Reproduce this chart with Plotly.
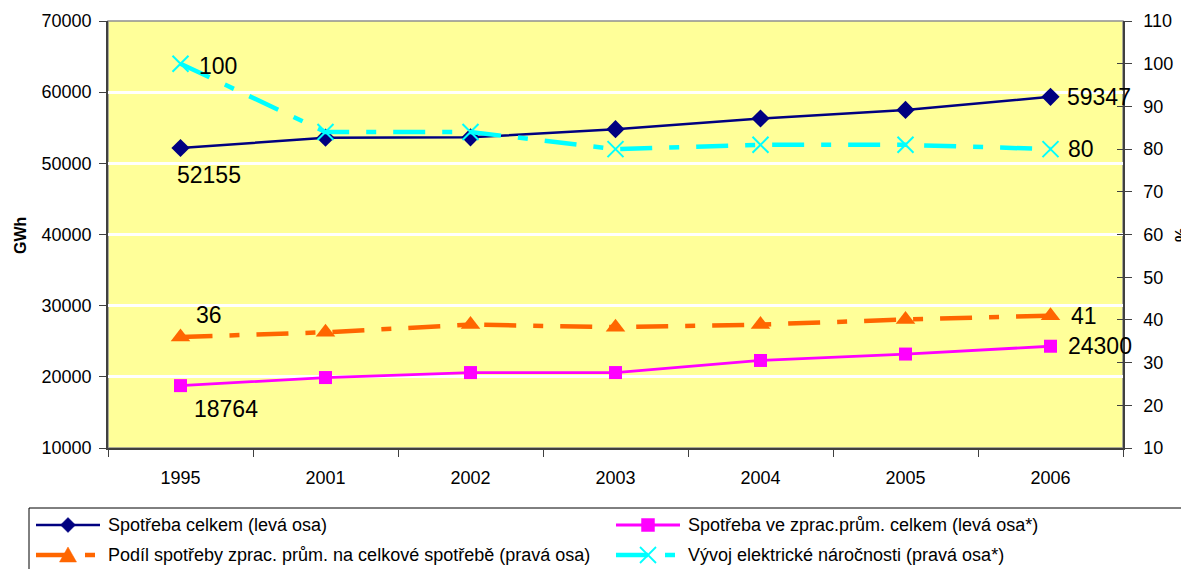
import plotly.graph_objects as go

# categories and series values
years = ["1995", "2001", "2002", "2003", "2004", "2005", "2006"]
spotreba_celkem = [52155, 53600, 53650, 54800, 56300, 57500, 59347]      # GWh, left axis
spotreba_zprac = [18764, 19900, 20600, 20600, 22300, 23200, 24300]       # GWh, left axis
podil_zprac = [36, 37.1, 38.9, 38.3, 38.9, 40.1, 41]                     # %, right axis
vyvoj_narocnosti = [100, 84, 84, 80, 81, 81, 80]                          # %, right axis

left_ticks = [10000, 20000, 30000, 40000, 50000, 60000, 70000]
right_ticks = [10, 20, 30, 40, 50, 60, 70, 80, 90, 100, 110]

FONT = "Liberation Sans, Arial, sans-serif"
DASH = "32px,17px,10px,17px"

NAVY, PINK, ORANGE, CYAN = "#000080", "#FF00FF", "#FF6600", "#00FFFF"

# the page body adds an 8px offset, so the figure is drawn 8px smaller
# plot area on screen: x 108..1123, y 21..448
PX_L, PX_R, PX_T, PX_B = 108, 1123, 21, 448


def px(sx):
    return (sx - PX_L) / (PX_R - PX_L)


def py(sy):
    return (PX_B - sy) / (PX_B - PX_T)


fig = go.Figure()

fig.add_trace(go.Scatter(
    x=years, y=spotreba_celkem, name="Spotřeba celkem (levá osa)", mode="lines+markers",
    line=dict(color=NAVY, width=2.5),
    marker=dict(symbol="diamond", size=14, color=NAVY),
))
fig.add_trace(go.Scatter(
    x=years, y=spotreba_zprac, name="Spotřeba ve zprac.prům. celkem (levá osa*)", mode="lines+markers",
    line=dict(color=PINK, width=2.8),
    marker=dict(symbol="square", size=13, color=PINK),
))
fig.add_trace(go.Scatter(
    x=years, y=podil_zprac, name="Podíl spotřeby zprac. prům. na celkové spotřebě (pravá osa)",
    yaxis="y2", mode="lines+markers",
    line=dict(color=ORANGE, width=4.5, dash=DASH),
    marker=dict(symbol="triangle-up", size=17, color=ORANGE),
))
fig.add_trace(go.Scatter(
    x=years, y=vyvoj_narocnosti, name="Vývoj elektrické náročnosti (pravá osa*)",
    yaxis="y2", mode="lines+markers",
    line=dict(color=CYAN, width=4.5, dash=DASH),
    marker=dict(symbol="x-thin", size=16, color=CYAN, line=dict(color=CYAN, width=2)),
))

# invisible helper so the inside-tick axis on the right is drawn
fig.add_trace(go.Scatter(x=[years[0]], y=[right_ticks[0]], yaxis="y3", mode="markers",
                         marker=dict(opacity=0), showlegend=False, hoverinfo="skip"))

# data labels on first / last points
annotations = []


def label(vals, idx, yref, xshift, yshift, xanchor="center"):
    i = idx % len(years)
    annotations.append(dict(
        x=i, y=vals[i], xref="x", yref=yref, text=f"{vals[i]:.0f}",
        showarrow=False, xanchor=xanchor, yanchor="middle", xshift=xshift, yshift=yshift,
        font=dict(family=FONT, size=23, color="#000000"),
    ))


label(spotreba_celkem, 0, "y", 28, -27)
label(spotreba_celkem, -1, "y", 14, 0, "left")
label(spotreba_zprac, 0, "y", 45, -23)
label(spotreba_zprac, -1, "y", 15, 0, "left")
label(podil_zprac, 0, "y2", 28, 22)
label(podil_zprac, -1, "y2", 18, 0, "left")
label(vyvoj_narocnosti, 0, "y2", 16, -2, "left")
label(vyvoj_narocnosti, -1, "y2", 15, 0, "left")

annotations += [
    dict(text="<b>GWh</b>", xref="paper", yref="paper", x=px(20), y=py(236),
         xanchor="center", yanchor="middle", textangle=-90, showarrow=False, font=dict(size=16)),
    dict(text="<b>%</b>", xref="paper", yref="paper", x=px(1181), y=py(235),
         xanchor="center", yanchor="middle", textangle=-90, showarrow=False, font=dict(size=16)),
]

# legend drawn by hand: box, line keys, marker keys and texts
shapes = [
    dict(type="rect", xref="paper", yref="paper", x0=0, x1=1, y0=0, y1=1,
         line=dict(color="#909090", width=1.5), layer="below"),
    dict(type="rect", xref="paper", yref="paper", x0=px(29), x1=px(1183), y0=py(508), y1=py(620),
         line=dict(color="#000000", width=1), fillcolor="#FFFFFF"),
]

legend_items = [
    (fig.data[0].name, NAVY, 2.5, "solid", "diamond", 36, 525),
    (fig.data[1].name, PINK, 2.8, "solid", "square", 616, 525),
    (fig.data[2].name, ORANGE, 4.5, DASH, "triangle", 36, 555),
    (fig.data[3].name, CYAN, 4.5, DASH, "x", 616, 555),
]

for name, color, width, dash, sym, x0, y0 in legend_items:
    shapes.append(dict(type="line", xref="paper", yref="paper",
                       x0=px(x0), x1=px(x0 + 64), y0=py(y0), y1=py(y0),
                       line=dict(color=color, width=width, dash=dash)))
    cx = x0 + 32
    if sym == "diamond":
        pts = [(cx, y0 - 7.5), (cx + 7.5, y0), (cx, y0 + 7.5), (cx - 7.5, y0)]
    elif sym == "square":
        pts = [(cx - 6.5, y0 - 6.5), (cx + 6.5, y0 - 6.5), (cx + 6.5, y0 + 6.5), (cx - 6.5, y0 + 6.5)]
    elif sym == "triangle":
        pts = [(cx, y0 - 8), (cx + 8.5, y0 + 7), (cx - 8.5, y0 + 7)]
    else:
        pts = None
    if pts:
        path = "M " + " L ".join(f"{px(a):.5f},{py(b):.5f}" for a, b in pts) + " Z"
        shapes.append(dict(type="path", xref="paper", yref="paper", path=path,
                           fillcolor=color, line=dict(color=color, width=0.5)))
    else:
        for d in (-1, 1):
            shapes.append(dict(type="line", xref="paper", yref="paper",
                               x0=px(cx - 8), x1=px(cx + 8), y0=py(y0 - 8 * d), y1=py(y0 + 8 * d),
                               line=dict(color=color, width=1.8)))
    annotations.append(dict(text=name, xref="paper", yref="paper", x=px(x0 + 70), y=py(y0),
                            xanchor="left", yanchor="middle", showarrow=False,
                            font=dict(family=FONT, size=18, color="#000000")))

fig.update_layout(
    width=1181, height=561,
    margin=dict(l=100, r=66, t=13, b=121, autoexpand=False),
    paper_bgcolor="#FFFFFF", plot_bgcolor="#FFFF99",
    font=dict(family=FONT, size=18, color="#000000"),
    showlegend=False,
    xaxis=dict(
        type="category", categoryorder="array", categoryarray=years,
        range=[-0.5, len(years) - 0.5], tickson="boundaries",
        ticks="outside", ticklen=7, tickcolor="#404040",
        showline=True, linecolor="#404040", linewidth=1.5,
        showgrid=False, zeroline=False, ticklabelstandoff=13,
    ),
    yaxis=dict(
        range=[left_ticks[0], left_ticks[-1]], tickvals=left_ticks, tickformat="d",
        ticks="outside", ticklen=7, tickcolor="#404040",
        showline=True, linecolor="#404040", linewidth=1.5,
        showgrid=True, gridcolor="#FFFFFF", gridwidth=2.5, zeroline=False,
        ticklabelstandoff=4,
    ),
    yaxis2=dict(
        overlaying="y", side="right", anchor="x",
        range=[right_ticks[0], right_ticks[-1]], tickvals=right_ticks,
        ticks="outside", ticklen=7, tickcolor="#404040",
        showline=True, linecolor="#404040", linewidth=1.5,
        showgrid=False, zeroline=False, ticklabelstandoff=8,
    ),
    yaxis3=dict(
        overlaying="y", side="right", anchor="x",
        range=[right_ticks[0], right_ticks[-1]], tickvals=right_ticks,
        ticks="inside", ticklen=6, tickcolor="#404040",
        showticklabels=False, showline=False, showgrid=False, zeroline=False,
    ),
    shapes=shapes,
    annotations=annotations,
)

fig.write_html("out.html")
